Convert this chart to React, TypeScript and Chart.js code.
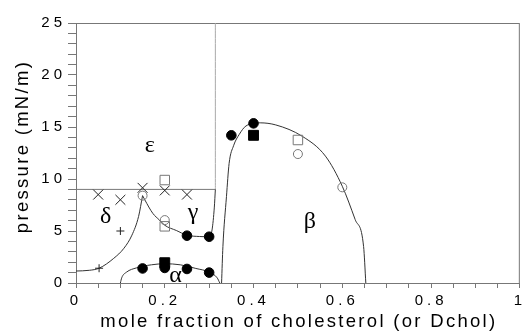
import React, { useEffect, useRef } from 'react';
import { Chart, registerables } from 'chart.js';
Chart.register(...registerables);

// tick labels (major ticks every 0.2 on x, every 5 on y)
const xTickLabels = ['0', '0.2', '0.4', '0.6', '0.8', '1'];
const yTickLabels = ['0', '5', '10', '15', '20', '25'];

// measured points
const crossPoints = [[0.05, 8.5], [0.1, 8.0], [0.15, 9.15], [0.2, 8.9], [0.25, 8.5]];
const plusPoints = [[0.052, 1.42], [0.1, 5.0]];
const openCirclePoints = [[0.15, 8.4], [0.2, 6.05], [0.5, 12.4], [0.6, 9.2]];
const openSquarePoints = [[0.2, 9.9], [0.2, 5.45], [0.5, 13.75]];
const filledCirclePoints = [
  [0.15, 1.4], [0.2, 1.45], [0.25, 1.35], [0.3, 1.0],
  [0.25, 4.55], [0.3, 4.45], [0.35, 14.2], [0.4, 15.35],
];
const filledSquarePoints = [[0.2, 1.95], [0.4, 14.2]];

// phase boundaries
const deltaBoundary = [[0, 1.15], [0.03, 1.22], [0.052, 1.42], [0.085, 2.37], [0.108, 3.34], [0.126, 4.6], [0.141, 6.4], [0.15, 8.4]];
const gammaBoundary = [[0.15, 8.4], [0.155, 8.0], [0.173, 6.7], [0.188, 6.05], [0.2, 5.55], [0.226, 5.05], [0.25, 4.6], [0.278, 4.47], [0.3, 4.45], [0.3065, 5.1], [0.3117, 7.3], [0.314, 9]];
const alphaBoundary = [[0.1, 0], [0.103, 0.5], [0.114, 1.05], [0.136, 1.45], [0.17, 1.75], [0.2, 1.85], [0.235, 1.75], [0.27, 1.4], [0.3, 1.05], [0.318, 0.5], [0.324, 0]];
const betaBoundary = [[0.328, 0], [0.331, 3.5], [0.339, 8.3], [0.345, 11.5], [0.355, 13.2], [0.368, 14.3], [0.383, 15.1], [0.415, 15.4], [0.45, 15.2], [0.51, 14.1], [0.562, 12.2], [0.6, 9.3], [0.629, 6.1], [0.648, 3.5], [0.653, 0]];
const epsilonLine = [[0, 9], [0.314, 9]];
const verticalLine = [[0.314, 9], [0.314, 25]];

// phase labels (data coordinates)
const phaseNames = ['ε', 'δ', 'γ', 'β', 'α'];
const phaseX = [0.166, 0.067, 0.264, 0.527, 0.224];
const phaseY = [13.2, 6.35, 6.8, 5.87, 0.67];

const xTitle = 'mole fraction of cholesterol (or Dchol)';
const yTitle = 'pressure (mN/m)';

const pts = (a: number[][]) => a.map(([x, y]) => ({ x, y }));

export default function App() {
  const ref = useRef<HTMLCanvasElement>(null);
  useEffect(() => {
    const marker = (data: number[][], style: string, r: number, bg: string, border: string) => ({
      data: pts(data),
      showLine: false,
      pointStyle: style,
      pointRadius: r,
      pointHoverRadius: r,
      pointBackgroundColor: bg,
      pointBorderColor: border,
      pointBorderWidth: 1,
    });
    const curve = (data: number[][], color: string) => ({
      data: pts(data),
      showLine: true,
      pointRadius: 0,
      borderColor: color,
      borderWidth: 1,
      cubicInterpolationMode: 'monotone',
      fill: false,
    });
    const plugin = {
      id: 'decor',
      beforeDraw(chart: any) {
        (chart.ctx as any).letterSpacing = '4px';
      },
      beforeDatasetsDraw(chart: any) {
        const ctx = chart.ctx;
        (ctx as any).letterSpacing = '0px';
        const a = chart.chartArea;
        ctx.save();
        ctx.strokeStyle = '#777';
        ctx.lineWidth = 1;
        ctx.strokeRect(a.left + 0.5, a.top + 0.5, a.right - a.left - 1, a.bottom - a.top);
        ctx.restore();
      },
      afterDraw(chart: any) {
        const ctx = chart.ctx;
        const xs = chart.scales.x, ys = chart.scales.y;
        ctx.save();
        ctx.fillStyle = '#000';
        (ctx as any).letterSpacing = '2.3px';
        ctx.font = '18.5px "Liberation Sans", Arial, sans-serif';
        ctx.textAlign = 'center';
        ctx.textBaseline = 'alphabetic';
        ctx.fillText(xTitle, (chart.chartArea.left + chart.chartArea.right) / 2 + 1, 327);
        ctx.save();
        ctx.translate(28, 147.5);
        ctx.rotate(-Math.PI / 2);
        ctx.fillText(yTitle, 1, 0);
        ctx.restore();
        (ctx as any).letterSpacing = '0px';
        ctx.font = '24px "Liberation Serif", "Times New Roman", serif';
        ctx.textBaseline = 'middle';
        phaseNames.forEach((n, i) => {
          ctx.fillText(n, xs.getPixelForValue(phaseX[i]), ys.getPixelForValue(phaseY[i]));
        });
        ctx.restore();
      },
    };
    const chart = new Chart(ref.current!, {
      type: 'scatter',
      data: {
        datasets: [
          marker(filledSquarePoints, 'rect', 7, '#000', '#000'),
          marker(filledCirclePoints, 'circle', 4.8, '#000', '#000'),
          marker(openSquarePoints, 'rect', 6.7, 'rgba(0,0,0,0)', '#777'),
          marker(openCirclePoints, 'circle', 4.5, 'rgba(0,0,0,0)', '#777'),
          marker(crossPoints, 'crossRot', 7, '#222', '#222'),
          marker(plusPoints, 'cross', 4, '#222', '#222'),
          curve(deltaBoundary, '#333'),
          curve(gammaBoundary, '#333'),
          curve(alphaBoundary, '#333'),
          curve(betaBoundary, '#333'),
          curve(epsilonLine, '#777'),
          curve(verticalLine, '#aaa'),
        ] as any,
      },
      options: {
        animation: false,
        responsive: false,
        events: [],
        layout: { padding: { left: 0, top: 23, right: 6, bottom: 0 } },
        plugins: { legend: { display: false }, tooltip: { enabled: false } },
        scales: {
          x: {
            type: 'linear',
            min: 0,
            max: 1,
            afterFit: (s: any) => { s.height = 50; },
            grid: { drawOnChartArea: false, drawTicks: true, tickLength: 5, color: '#777' },
            border: { display: true, color: '#777' },
            ticks: {
              stepSize: 0.05,
              autoSkip: false,
              maxRotation: 0,
              padding: 4,
              color: '#000',
              font: { family: '"Liberation Sans", Arial, sans-serif', size: 15 },
              callback: (_v: any, i: number) => (i % 4 === 0 ? xTickLabels[i / 4] : ''),
            },
          },
          y: {
            type: 'linear',
            min: 0,
            max: 25,
            afterFit: (s: any) => { s.width = 76; },
            grid: { drawOnChartArea: false, drawTicks: true, tickLength: 8, color: '#777' },
            border: { display: true, color: '#777' },
            ticks: {
              stepSize: 1,
              autoSkip: false,
              padding: 2,
              color: '#000',
              font: { family: '"Liberation Sans", Arial, sans-serif', size: 15 },
              callback: (_v: any, i: number) => (i % 5 === 0 ? yTickLabels[i / 5] : ''),
            },
          },
        },
      } as any,
      plugins: [plugin],
    });
    return () => chart.destroy();
  }, []);
  return (
    <div style={{ position: 'fixed', left: 0, top: 0, width: 528, height: 333, background: '#fff' }}>
      <canvas ref={ref} width={528} height={333} style={{ display: 'block' }} />
    </div>
  );
}
